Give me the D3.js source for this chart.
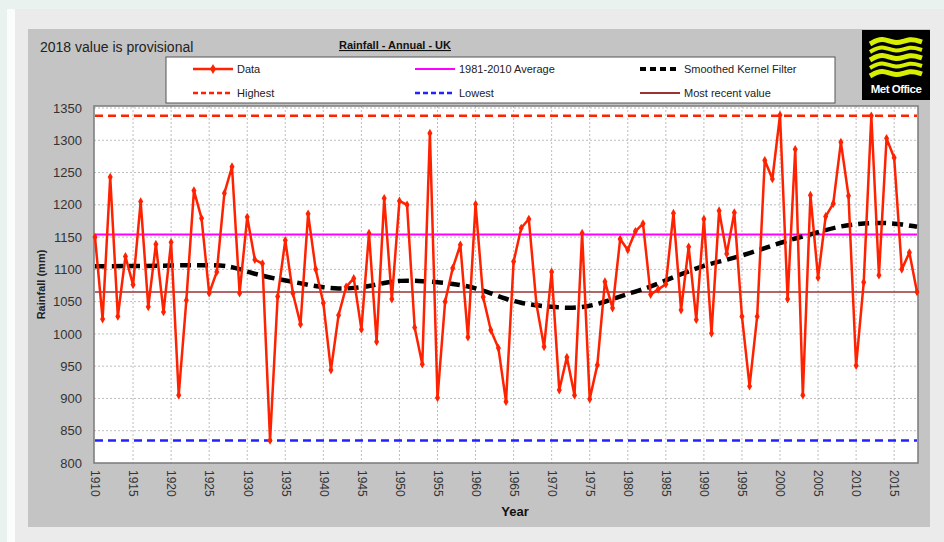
<!DOCTYPE html>
<html>
<head>
<meta charset="utf-8">
<script src="https://cdn.jsdelivr.net/npm/d3@7"></script>
<style>
  body { margin: 0; background: #e9f2ef; }
  svg { display: block; }
  text { font-family: "Liberation Sans", Arial, sans-serif; }
</style>
</head>
<body>
<svg id="chart" width="944" height="542"></svg>
<script>
// annual UK rainfall (mm), 1910-2018
const years = d3.range(1910, 2019);
const rainfall = [
  1150, 1023, 1243, 1027, 1120, 1076, 1205, 1042, 1139, 1034,
  1142, 905, 1052, 1222, 1179, 1063, 1096, 1218, 1259, 1063,
  1181, 1115, 1109, 835, 1058, 1145, 1063, 1015, 1186, 1100,
  1048, 944, 1029, 1073, 1086, 1007, 1156, 988, 1210, 1054,
  1206, 1200, 1010, 953, 1311, 901, 1050, 1102, 1138, 995,
  1201, 1057, 1006, 978, 895, 1112, 1164, 1178, 1046, 980,
  1096, 913, 964, 905, 1156, 899, 952, 1081, 1040, 1147,
  1130, 1159, 1171, 1061, 1069, 1077, 1187, 1037, 1135, 1022,
  1178, 1001, 1191, 1124, 1188, 1027, 919, 1027, 1269, 1240,
  1339, 1054, 1286, 905, 1215, 1087, 1182, 1202, 1297, 1214,
  951, 1080, 1338, 1091, 1303, 1273, 1100, 1126, 1065
];

// smoothed kernel filter
const kernelYears = [1910, 1915, 1920, 1925, 1928, 1930, 1933, 1936, 1938, 1940, 1942, 1944, 1946, 1948, 1950, 1953,
  1956, 1958, 1960, 1962, 1964, 1966, 1968, 1970, 1972, 1974, 1976, 1978, 1980, 1982, 1984, 1986, 1988, 1990,
  1992, 1994, 1996, 1998, 2000, 2002, 2004, 2006, 2008, 2010, 2012, 2014, 2016, 2018];
const kernelValues = [1105, 1105, 1106, 1107, 1105, 1096, 1087, 1081, 1076, 1072, 1070, 1071, 1074, 1079, 1083, 1082,
  1079, 1076, 1071, 1063, 1054, 1048, 1044, 1042, 1040, 1041, 1046, 1054, 1062, 1069, 1078, 1088, 1097, 1106,
  1112, 1118, 1125, 1133, 1141, 1148, 1154, 1161, 1167, 1170, 1172, 1172, 1170, 1166];

const average = 1154;
const highest = 1338;
const lowest = 835;
const mostRecent = 1065;

const yTicks = d3.range(800, 1351, 50);
const xTicks = d3.range(1910, 2016, 5);

const legendItems = [
  { label: "Data", color: "#ff2200", dash: null, width: 2.5, marker: true },
  { label: "1981-2010 Average", color: "#ff00ff", dash: null, width: 2 },
  { label: "Smoothed Kernel Filter", color: "#000000", dash: "6,4", width: 4 },
  { label: "Highest", color: "#ff2200", dash: "5,3", width: 2.5 },
  { label: "Lowest", color: "#2222ff", dash: "5,3", width: 2.5 },
  { label: "Most recent value", color: "#993333", dash: null, width: 2 }
];

const svg = d3.select("#chart");

// background panels
svg.append("rect").attr("x", 7).attr("y", 9).attr("width", 937).attr("height", 533).attr("fill", "#fbfcfc");
svg.append("rect").attr("x", 15).attr("y", 9).attr("width", 929).attr("height", 533).attr("fill", "#ebebeb");
svg.append("rect").attr("x", 28).attr("y", 29).attr("width", 902).attr("height", 498).attr("fill", "#c4c4c4");

const plot = { left: 94, right: 918, top: 106, bottom: 463 };
const x = d3.scaleLinear().domain([1910, 2018]).range([95, 917]);
const y = d3.scaleLinear().domain([800, 1350]).range([plot.bottom, 108]);

svg.append("rect")
  .attr("x", plot.left).attr("y", plot.top)
  .attr("width", plot.right - plot.left).attr("height", plot.bottom - plot.top)
  .attr("fill", "#ffffff");

// gridlines
const grid = svg.append("g");
grid.selectAll(".hg").data(yTicks.slice(1)).join("line")
  .attr("x1", plot.left).attr("x2", plot.right)
  .attr("y1", d => y(d)).attr("y2", d => y(d))
  .attr("stroke", "#bdbdbd").attr("stroke-dasharray", "2,2").attr("stroke-width", 1);
grid.selectAll(".vg").data(xTicks.slice(1)).join("line")
  .attr("x1", d => x(d)).attr("x2", d => x(d))
  .attr("y1", plot.top).attr("y2", plot.bottom)
  .attr("stroke", "#bdbdbd").attr("stroke-dasharray", "2,2").attr("stroke-width", 1);

svg.append("rect")
  .attr("x", plot.left).attr("y", plot.top)
  .attr("width", plot.right - plot.left).attr("height", plot.bottom - plot.top)
  .attr("fill", "none").attr("stroke", "#7a7a7a").attr("stroke-width", 1.5);

// axes
const yAxis = svg.append("g")
  .attr("transform", `translate(${plot.left},0)`)
  .call(d3.axisLeft(y).tickValues(yTicks).tickSize(0).tickPadding(12).tickFormat(d3.format("d")));
yAxis.select(".domain").remove();
yAxis.selectAll("text").attr("font-size", 13).attr("fill", "#333");

const xAxis = svg.append("g")
  .attr("transform", `translate(0,${plot.bottom})`)
  .call(d3.axisBottom(x).tickValues(xTicks).tickSize(0).tickFormat(d3.format("d")));
xAxis.select(".domain").remove();
xAxis.selectAll("text")
  .attr("font-size", 12).attr("fill", "#333")
  .attr("text-anchor", "start")
  .attr("transform", "rotate(90)")
  .attr("x", 7).attr("y", 0).attr("dy", "0.35em");

svg.append("text")
  .attr("transform", `translate(45,${(plot.top + plot.bottom) / 2}) rotate(-90)`)
  .attr("text-anchor", "middle").attr("font-size", 11).attr("font-weight", "bold").attr("fill", "#222")
  .text("Rainfall (mm)");
svg.append("text")
  .attr("x", 515).attr("y", 516)
  .attr("text-anchor", "middle").attr("font-size", 13).attr("font-weight", "bold").attr("fill", "#111")
  .text("Year");

// reference lines
const refs = [
  { v: highest, color: "#ff2200", dash: "8,5", width: 2.5 },
  { v: lowest, color: "#2222ff", dash: "8,5", width: 2.5 },
  { v: average, color: "#ff00ff", dash: null, width: 2 },
  { v: mostRecent, color: "#993333", dash: null, width: 1.5 }
];
svg.append("g").selectAll("line").data(refs).join("line")
  .attr("x1", plot.left + 1).attr("x2", plot.right - 1)
  .attr("y1", d => y(d.v)).attr("y2", d => y(d.v))
  .attr("stroke", d => d.color).attr("stroke-width", d => d.width)
  .attr("stroke-dasharray", d => d.dash);

// smoothed kernel
svg.append("path")
  .datum(kernelYears.map((yr, i) => [yr, kernelValues[i]]))
  .attr("fill", "none").attr("stroke", "#000").attr("stroke-width", 4.5)
  .attr("stroke-dasharray", "11,6")
  .attr("d", d3.line().x(d => x(d[0])).y(d => y(d[1])).curve(d3.curveBasis));

// data
const series = years.map((yr, i) => [yr, rainfall[i]]);
svg.append("path")
  .datum(series)
  .attr("fill", "none").attr("stroke", "#ff2200").attr("stroke-width", 2.5).attr("stroke-linejoin", "round")
  .attr("d", d3.line().x(d => x(d[0])).y(d => y(d[1])));
svg.append("g").selectAll("path").data(series).join("path")
  .attr("transform", d => `translate(${x(d[0])},${y(d[1])})`)
  .attr("d", d3.symbol(d3.symbolDiamond, 22))
  .attr("fill", "#ff2200");

// titles
svg.append("text").attr("x", 40).attr("y", 52)
  .attr("font-family", "'Open Sans', 'Liberation Sans', sans-serif")
  .attr("font-size", 14).attr("fill", "#222").text("2018 value is provisional");
svg.append("text").attr("x", 395).attr("y", 49)
  .attr("text-anchor", "middle").attr("font-size", 11).attr("font-weight", "bold")
  .attr("text-decoration", "underline").attr("fill", "#111")
  .text("Rainfall - Annual - UK");

// legend
const legend = svg.append("g");
legend.append("rect").attr("x", 166).attr("y", 57).attr("width", 669).attr("height", 46)
  .attr("fill", "#fff").attr("stroke", "#555").attr("stroke-width", 1);
const colX = [193, 415, 640];
const rowY = [69, 93];
const entries = legend.selectAll("g").data(legendItems).join("g")
  .attr("transform", (d, i) => `translate(${colX[i % 3]},${rowY[Math.floor(i / 3)]})`);
entries.append("line")
  .attr("x1", 0).attr("x2", 40).attr("y1", 0).attr("y2", 0)
  .attr("stroke", d => d.color).attr("stroke-width", d => d.width)
  .attr("stroke-dasharray", d => d.dash);
entries.filter(d => d.marker).append("path")
  .attr("transform", "translate(20,0)")
  .attr("d", d3.symbol(d3.symbolDiamond, 30)).attr("fill", "#ff2200");
entries.append("text")
  .attr("x", 44).attr("y", 0).attr("dy", "0.35em")
  .attr("font-family", "'Liberation Sans Narrow', 'Arial Narrow', 'Liberation Sans', sans-serif")
  .attr("font-size", 11).attr("fill", "#222")
  .text(d => d.label);

// Met Office logo
const logo = svg.append("g").attr("transform", "translate(862,30)");
logo.append("rect").attr("width", 68).attr("height", 70).attr("fill", "#000");
const wave = d3.line().curve(d3.curveBasis);
[10, 18, 26, 34, 42].forEach((off, i) => {
  const pts = [[8, off + 4], [20, off - 3], [34, off + 5], [48, off - 2], [60, off + 2]];
  logo.append("path").attr("d", wave(pts))
    .attr("fill", "none").attr("stroke", "#d7f000").attr("stroke-width", i % 2 ? 4 : 5);
});
logo.append("text").attr("x", 34).attr("y", 63).attr("text-anchor", "middle")
  .attr("font-size", 11.5).attr("font-weight", "bold").attr("fill", "#fff")
  .attr("letter-spacing", -0.5)
  .text("Met Office");
</script>
</body>
</html>
